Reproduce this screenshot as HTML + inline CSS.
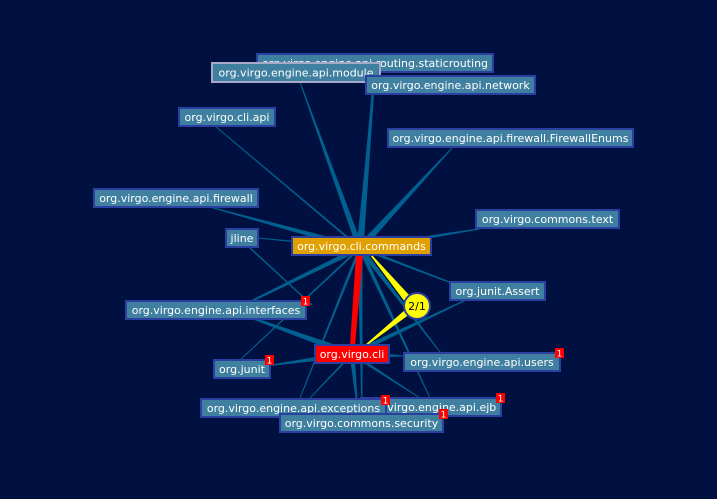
<!DOCTYPE html>
<html><head><meta charset="utf-8"><style>
html,body{margin:0;padding:0;background:#001040;width:717px;height:499px;overflow:hidden}
svg{display:block}
text{font-family:"DejaVu Sans","Liberation Sans",sans-serif;font-size:11px;fill:#fff}
</style></head><body>
<svg id="s" width="717" height="499" viewBox="0 0 717 499">
<rect width="717" height="499" fill="#001040"/>
<g id="edges"></g>
<polygon points="356,255 363,255 355,346 350,346" fill="#ff0000"/>
<polygon points="370,255 371,254 410,296 405,302" fill="#ffff00"/>
<polygon points="365,345 366,346 410,314 406,309" fill="#ffff00"/>
<g id="nodes"></g>
<circle cx="417" cy="306" r="13" fill="#ffff00" stroke="#2a3fa0" stroke-width="2"/>
<text x="417" y="310" text-anchor="middle" style="fill:#000">2/1</text>
</svg>
<script>
var NS="http://www.w3.org/2000/svg";
function wedge(sx,sy,ws,tx,ty,wt){
 var dx=tx-sx,dy=ty-sy,l=Math.hypot(dx,dy),nx=-dy/l,ny=dx/l;
 var p=document.createElementNS(NS,"polygon");
 p.setAttribute("points",[sx+nx*ws/2,sy+ny*ws/2,tx+nx*wt/2,ty+ny*wt/2,tx-nx*wt/2,ty-ny*wt/2,sx-nx*ws/2,sy-ny*ws/2].join(","));
 p.setAttribute("fill","#00608f");
 document.getElementById("edges").appendChild(p);
}
var C=[360,248],L=[352,354];
[[375,72,7],[300,82,6],[372,94,5],[215,126,2],[452,148,7],[210,207,6],[485,228,5],[258,238,2],[215,319,5],[470,290,3],[440,352,5],[430,398,4],[300,398,3],[362,413,5],[240,360,2]].forEach(function(e){wedge(C[0],C[1],e[2],e[0],e[1],1);});
[[230,310,7],[265,366,6],[403,356,8],[310,398,2],[358,413,5],[470,298,5],[420,398,3]].forEach(function(e){wedge(L[0],L[1],e[2],e[0],e[1],1);});
wedge(250,248,1.5,312,305,1.5);
function node(x,y,w,h,t,fill,stroke){
 var g=document.getElementById("nodes");
 var r=document.createElementNS(NS,"rect");
 r.setAttribute("x",x+1);r.setAttribute("y",y+1);r.setAttribute("width",w-2);r.setAttribute("height",h-2);
 r.setAttribute("fill",fill);r.setAttribute("stroke",stroke);r.setAttribute("stroke-width",2);
 g.appendChild(r);
 var tx=document.createElementNS(NS,"text");
 tx.setAttribute("x",x+w/2);tx.setAttribute("y",y+h/2+4);tx.setAttribute("text-anchor","middle");
 tx.textContent=t;g.appendChild(tx);
}
function badge(x,y){
 var g=document.getElementById("nodes");
 var r=document.createElementNS(NS,"rect");
 r.setAttribute("x",x);r.setAttribute("y",y);r.setAttribute("width",9);r.setAttribute("height",10);r.setAttribute("fill","#ff0000");
 g.appendChild(r);
 var t=document.createElementNS(NS,"text");
 t.setAttribute("x",x+4.5);t.setAttribute("y",y+8.5);t.setAttribute("text-anchor","middle");t.setAttribute("style","font-size:9px");
 t.textContent="1";g.appendChild(t);
}
var F="#3f7fa0",B="#2a3fa0";
node(256,53,238,20,"org.virgo.engine.api.routing.staticrouting",F,B);
node(211,62,170,21,"org.virgo.engine.api.module",F,"#a8a8c8");
node(365,75,171,20,"org.virgo.engine.api.network",F,B);
node(178,107,98,20,"org.virgo.cli.api",F,B);
node(387,128,247,20,"org.virgo.engine.api.firewall.FirewallEnums",F,B);
node(93,188,166,20,"org.virgo.engine.api.firewall",F,B);
node(475,209,145,20,"org.virgo.commons.text",F,B);
node(225,228,34,20,"jline",F,B);
node(291,236,141,20,"org.virgo.cli.commands","#e0a000",B);
node(449,281,97,20,"org.junit.Assert",F,B);
node(125,300,182,20,"org.virgo.engine.api.interfaces",F,B);badge(301,296);
node(314,344,76,20,"org.virgo.cli","#ff0000",B);
node(403,352,158,20,"org.virgo.engine.api.users",F,B);badge(555,348);
node(213,359,58,20,"org.junit",F,B);badge(265,355);
node(360,397,142,20,"org.virgo.engine.api.ejb",F,B);badge(496,393);
node(200,398,187,20,"org.virgo.engine.api.exceptions",F,B);badge(381,395);
node(279,413,165,20,"org.virgo.commons.security",F,B);badge(439,409);
</script>
</body></html>
